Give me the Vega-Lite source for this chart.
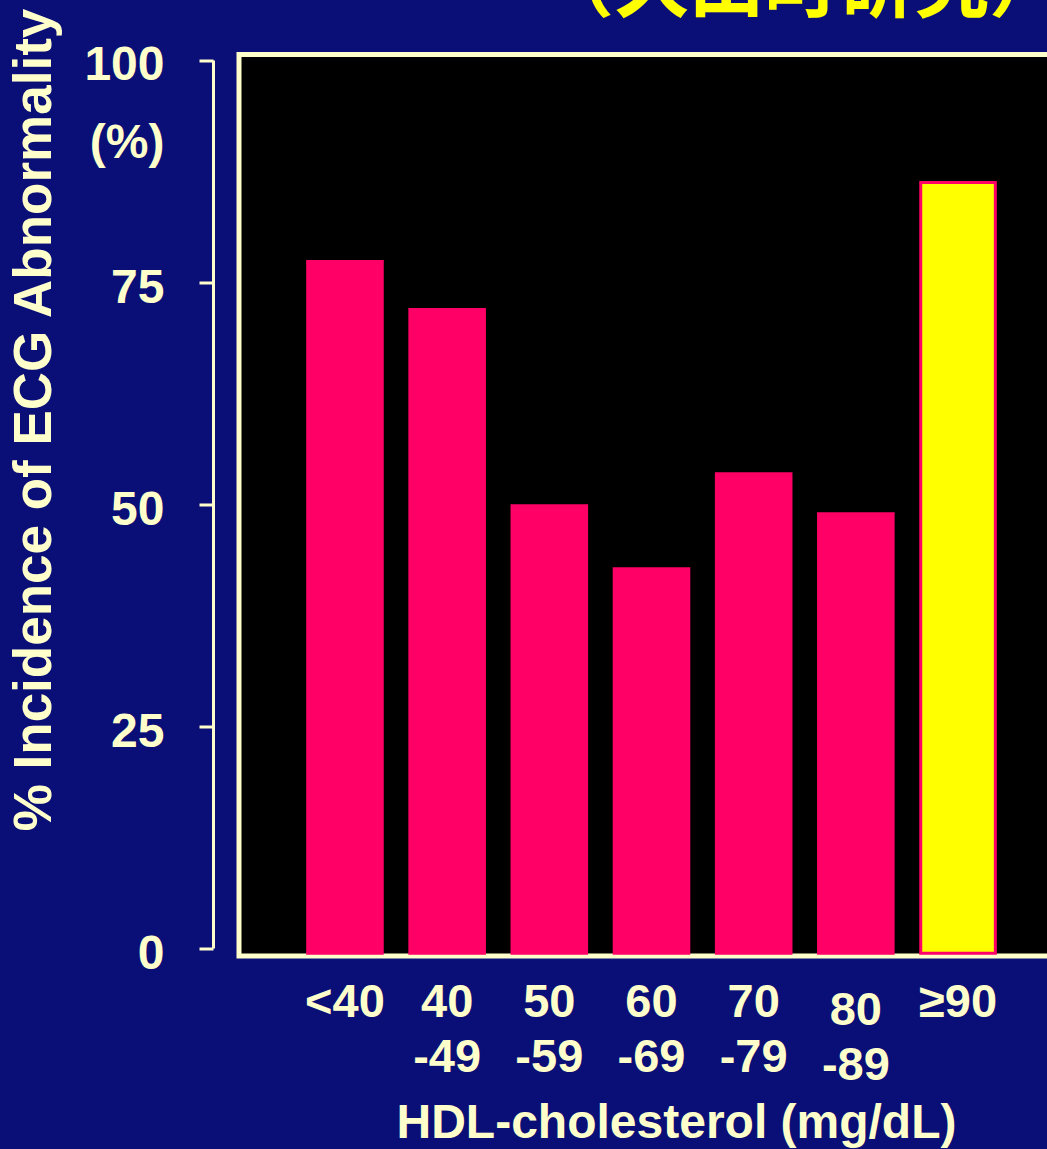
{
  "$schema": "https://vega.github.io/schema/vega-lite/v6.json",
  "description": "Incidence of ECG abnormality by HDL-cholesterol class (Hisayama study).",
  "autosize": {"type": "none"},
  "padding": {"left": 239, "top": 54.5, "right": 0, "bottom": 193},
  "width": 825,
  "height": 901.5,
  "background": "#0a0f78",
  "title": {
    "text": "（久山町研究）",
    "orient": "top",
    "anchor": "end",
    "frame": "group",
    "font": "Noto Sans CJK JP",
    "fontWeight": "bold",
    "fontSize": 75,
    "color": "#ffff00",
    "baseline": "alphabetic",
    "offset": -79
  },
  "config": {
    "view": {"fill": "#000000", "stroke": "#ffffcc", "strokeWidth": 5},
    "font": "Liberation Sans"
  },
  "data": {
    "values": [
      {"hdl": "<40", "pct": 77.3},
      {"hdl": "40-49", "pct": 71.9},
      {"hdl": "50-59", "pct": 49.8},
      {"hdl": "60-69", "pct": 42.7},
      {"hdl": "70-79", "pct": 53.4},
      {"hdl": "80-89", "pct": 48.9},
      {"hdl": "≥90", "pct": 86.2}
    ]
  },
  "mark": {"type": "bar", "stroke": "#ff0066", "strokeWidth": 3},
  "encoding": {
    "x": {
      "field": "hdl",
      "type": "nominal",
      "sort": null,
      "scale": {"paddingInner": 0.27, "paddingOuter": 0.672},
      "axis": {
        "title": "HDL-cholesterol (mg/dL)",
        "labelAngle": 0,
        "domain": false,
        "ticks": false,
        "labelFont": "Liberation Sans",
        "labelFontWeight": "bold",
        "labelFontSize": 47,
        "labelColor": "#ffffcc",
        "labelAlign": "center",
        "labelBaseline": "top",
        "labelLineHeight": 55,
        "labelPadding": {"condition": {"test": "datum.value === '80-89'", "value": 31}, "value": 23},
        "labelExpr": "length(datum.label) == 5 ? [substring(datum.label, 0, 2), substring(datum.label, 2)] : datum.label",
        "labelOverlap": false,
        "labelBound": false,
        "labelFlush": false,
        "titleFont": "Liberation Sans",
        "titleFontWeight": "bold",
        "titleFontSize": 48,
        "titleColor": "#ffffcc",
        "titleAlign": "center",
        "titleBaseline": "alphabetic",
        "titleX": 437,
        "titleY": 181.5
      }
    },
    "y": {
      "field": "pct",
      "type": "quantitative",
      "scale": {"domain": [0, 100], "range": [893.5, 5.5]},
      "axis": {
        "title": "% Incidence of ECG Abnormality",
        "values": [0, 25, 50, 75, 100],
        "offset": 26,
        "grid": false,
        "domainColor": "#ffffcc",
        "domainWidth": 3,
        "tickColor": "#ffffcc",
        "tickWidth": 3,
        "tickSize": 14,
        "labelPadding": 35,
        "labelFont": "Liberation Sans",
        "labelFontWeight": "bold",
        "labelFontSize": 48,
        "labelColor": "#ffffcc",
        "labelBaseline": "middle",
        "labelLineHeight": 78,
        "labelExpr": "datum.value === 100 ? ['100', '(%)'] : datum.label",
        "labelOffset": {"condition": {"test": "datum.value === 100", "value": 5}, "value": 6},
        "labelOverlap": false,
        "labelBound": false,
        "labelFlush": false,
        "titleFont": "Liberation Sans",
        "titleFontWeight": "bold",
        "titleFontSize": 53,
        "titleColor": "#ffffcc",
        "titleY": 365,
        "titlePadding": 22
      }
    },
    "y2": {"datum": -0.6},
    "color": {
      "field": "hdl",
      "type": "nominal",
      "scale": {
        "domain": ["<40", "40-49", "50-59", "60-69", "70-79", "80-89", "≥90"],
        "range": ["#ff0066", "#ff0066", "#ff0066", "#ff0066", "#ff0066", "#ff0066", "#ffff00"]
      },
      "legend": null
    }
  }
}
